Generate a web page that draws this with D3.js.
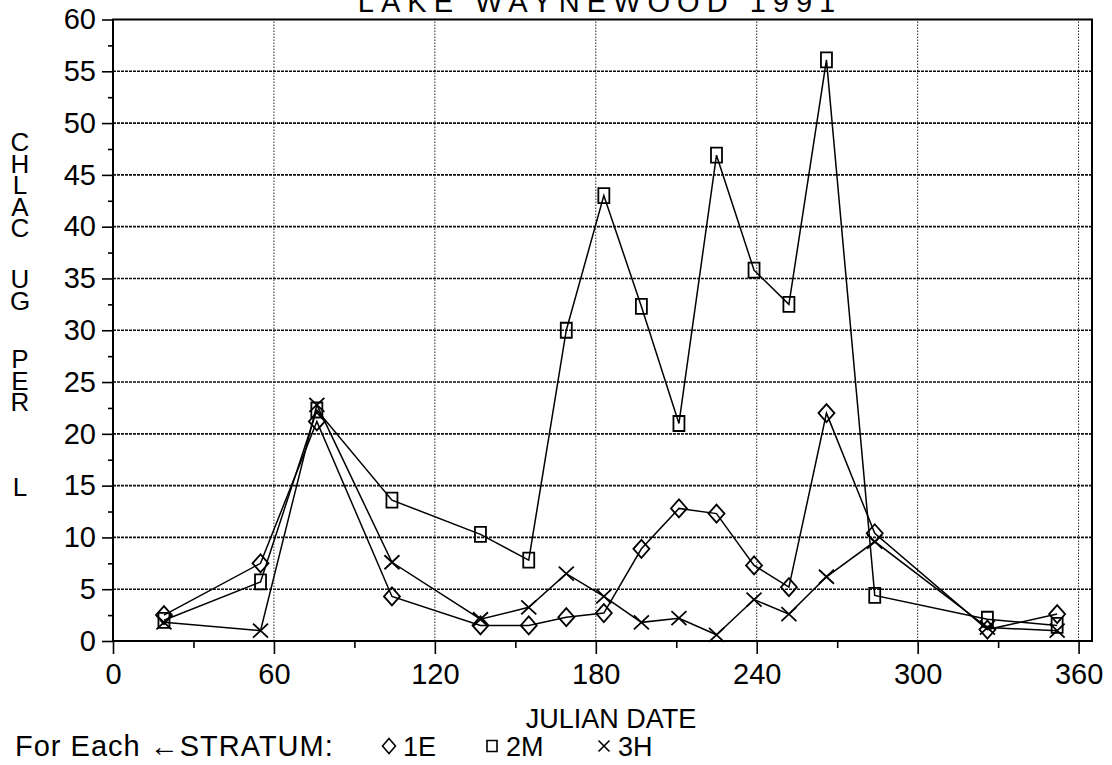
<!DOCTYPE html>
<html>
<head>
<meta charset="utf-8">
<script src="https://cdn.jsdelivr.net/npm/d3@7"></script>
<style>
  body { margin: 0; background: #fff; }
  svg { display: block; }
  text { font-family: "Liberation Sans", Arial, sans-serif; fill: #000; }
</style>
</head>
<body>
<div id="chart"></div>
<script>
// julian dates of the samples
const dates = [19, 55, 76, 104, 137, 155, 169, 183, 197, 211, 225, 239, 252, 266, 284, 326, 352];
// chlorophyll a, ug per L, by stratum
const s1E = [2.5, 7.5, 21.2, 4.3, 1.5, 1.5, 2.3, 2.7, 8.9, 12.8, 12.3, 7.3, 5.2, 22.0, 10.4, 1.1, 2.6];
const s2M = [2.0, 5.7, 22.3, 13.6, 10.3, 7.8, 30.0, 43.0, 32.3, 21.0, 46.9, 35.8, 32.5, 56.1, 4.4, 2.1, 1.5];
const s3H = [1.8, 1.0, 22.8, 7.6, 2.1, 3.25, 6.5, 4.3, 1.8, 2.2, 0.6, 4.0, 2.6, 6.2, 9.6, 1.3, 1.0];

const xTicks = [0, 60, 120, 180, 240, 300, 360];
const yTicks = [0, 5, 10, 15, 20, 25, 30, 35, 40, 45, 50, 55, 60];
const yLabelWords = ["CHLAC", "UG", "PER", "L"];

const width = 1112, height = 765;

const svg = d3.select("#chart").append("svg")
    .attr("width", width)
    .attr("height", height);

const x = d3.scaleLinear().domain([0, 365]).range([113, 1092]);
const y = d3.scaleLinear().domain([0, 60]).range([641, 19.5]);

// grid
svg.append("g")
    .selectAll("line")
    .data(yTicks.slice(1, -1))
    .enter().append("line")
    .attr("x1", x(0)).attr("x2", x(365))
    .attr("y1", d => y(d)).attr("y2", d => y(d))
    .attr("stroke", "#111")
    .attr("stroke-width", 1.6)
    .attr("stroke-dasharray", "3,1");

svg.append("g")
    .selectAll("line")
    .data(xTicks.slice(1))
    .enter().append("line")
    .attr("x1", d => x(d)).attr("x2", d => x(d))
    .attr("y1", y(0)).attr("y2", y(60))
    .attr("stroke", "#222")
    .attr("stroke-width", 1)
    .attr("stroke-dasharray", "1.5,1.5");

// axes
const yAxis = d3.axisLeft(y).tickValues(yTicks).tickSize(11).tickPadding(6);
const yAxisMinor = d3.axisLeft(y).tickValues(d3.range(2.5, 60, 5)).tickSize(5).tickFormat("");
const xAxis = d3.axisBottom(x).tickValues(xTicks).tickSize(13).tickPadding(9);
const xAxisMinor = d3.axisBottom(x).tickValues(d3.range(30, 361, 60)).tickSize(7).tickFormat("");

function styleAxis(g) {
    g.select(".domain").remove();
    g.selectAll("line").attr("stroke", "#000").attr("stroke-width", 1.6);
    g.selectAll("text").style("font-size", "29px").attr("fill", "#000");
}

svg.append("g").attr("transform", `translate(${x(0)},0)`).call(yAxis).call(styleAxis);
svg.append("g").attr("transform", `translate(${x(0)},0)`).call(yAxisMinor).call(styleAxis);
svg.append("g").attr("transform", `translate(0,${y(0)})`).call(xAxis).call(styleAxis);
svg.append("g").attr("transform", `translate(0,${y(0)})`).call(xAxisMinor).call(styleAxis);

// frame
svg.append("rect")
    .attr("x", x(0)).attr("y", y(60))
    .attr("width", x(365) - x(0)).attr("height", y(0) - y(60))
    .attr("fill", "none")
    .attr("stroke", "#000")
    .attr("stroke-width", 2);

// markers
function diamond(w, h) {
    return `M0,${-h / 2}L${w / 2},0L0,${h / 2}L${-w / 2},0Z`;
}
function square(w, h) {
    return `M${-w / 2},${-h / 2}H${w / 2}V${h / 2}H${-w / 2}Z`;
}
function cross(w, h) {
    return `M${-w / 2},${-h / 2}L${w / 2},${h / 2}M${w / 2},${-h / 2}L${-w / 2},${h / 2}`;
}

const series = [
    { name: "1E", values: s1E, path: diamond(16, 18) },
    { name: "2M", values: s2M, path: square(11, 15) },
    { name: "3H", values: s3H, path: cross(15, 14) }
];

const line = d3.line()
    .x(d => x(d[0]))
    .y(d => y(d[1]));

series.forEach(s => {
    const pts = dates.map((d, i) => [d, s.values[i]]);
    svg.append("path")
        .datum(pts)
        .attr("d", line)
        .attr("fill", "none")
        .attr("stroke", "#000")
        .attr("stroke-width", 1.5);

    svg.append("g")
        .selectAll("path")
        .data(pts)
        .enter().append("path")
        .attr("d", s.path)
        .attr("transform", d => `translate(${x(d[0])},${y(d[1])})`)
        .attr("fill", "none")
        .attr("stroke", "#000")
        .attr("stroke-width", 1.8);
});

// title (cut at the top as in the source)
svg.append("text")
    .attr("x", 600)
    .attr("y", 12)
    .attr("text-anchor", "middle")
    .style("font-size", "29px")
    .style("letter-spacing", "7px")
    .text("LAKE WAYNEWOOD  1991");

// x title
svg.append("text")
    .attr("x", 611)
    .attr("y", 728)
    .attr("text-anchor", "middle")
    .style("font-size", "27px")
    .text("JULIAN DATE");

// y title, letters stacked upright, one text per word
const yWordTop = [127, 264, 344, 472];
yLabelWords.forEach((w, wi) => {
    svg.append("text")
        .attr("x", 20)
        .attr("y", yWordTop[wi])
        .style("writing-mode", "vertical-rl")
        .style("text-orientation", "upright")
        .style("font-size", "26px")
        .style("letter-spacing", "-8.5px")
        .text(w);
});

// legend
const legendY = 746;
svg.append("text")
    .attr("x", 15)
    .attr("y", legendY + 10)
    .style("font-size", "29px")
    .style("letter-spacing", "1px")
    .text("For Each \u2190STRATUM:");

const legendItems = [
    { name: "1E", path: diamond(13, 15), mx: 389 },
    { name: "2M", path: square(10, 11), mx: 492 },
    { name: "3H", path: cross(11, 11), mx: 604 }
];
legendItems.forEach(l => {
    svg.append("path")
        .attr("d", l.path)
        .attr("transform", `translate(${l.mx},${legendY})`)
        .attr("fill", "none")
        .attr("stroke", "#000")
        .attr("stroke-width", 1.6);
    svg.append("text")
        .attr("x", l.mx + 14)
        .attr("y", legendY + 10)
        .style("font-size", "27px")
        .text(l.name);
});
</script>
</body>
</html>
